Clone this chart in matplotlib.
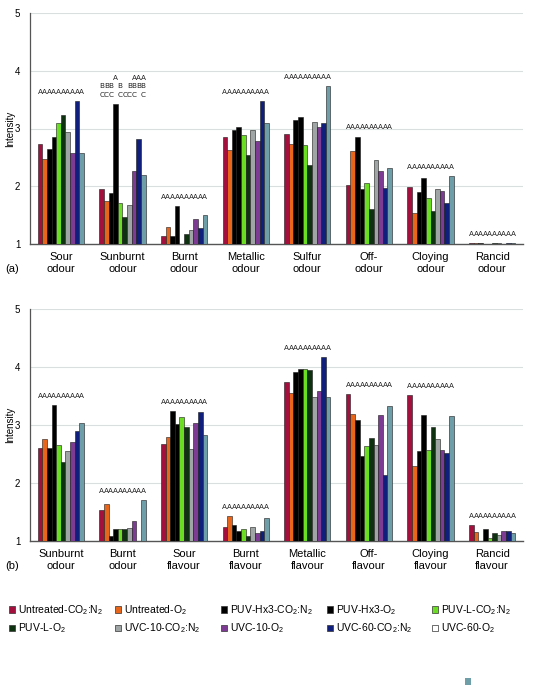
import numpy as np
import matplotlib
matplotlib.use("Agg")
import matplotlib.pyplot as plt
from matplotlib.patches import Patch, Rectangle

plt.rcParams['font.family'] = ['Liberation Sans', 'DejaVu Sans']
plt.rcParams['mathtext.fontset'] = 'custom'
plt.rcParams['mathtext.rm'] = 'Liberation Sans'
plt.rcParams['mathtext.it'] = 'Liberation Sans:italic'

# series (treatments)
series = ['Untreated-CO$_2$:N$_2$', 'Untreated-O$_2$', 'PUV-Hx3-CO$_2$:N$_2$', 'PUV-Hx3-O$_2$',
          'PUV-L-CO$_2$:N$_2$', 'PUV-L-O$_2$', 'UVC-10-CO$_2$:N$_2$', 'UVC-10-O$_2$',
          'UVC-60-CO$_2$:N$_2$', 'UVC-60-O$_2$']
colors = ['#A3103D', '#E8661C', '#000000', '#000000', '#6BDD22',
          '#0E3210', '#9FA4A4', '#7D3B93', '#0F1F7B', '#6E9FA8']
legend_colors = colors[:9] + ['#FFFFFF']

# panel (a)
cats_a = ['Sour\nodour', 'Sunburnt\nodour', 'Burnt\nodour', 'Metallic\nodour',
          'Sulfur\nodour', 'Off-\nodour', 'Cloying\nodour', 'Rancid\nodour']
vals_a = [
    [2.73, 2.47, 2.64, 2.86, 3.09, 3.23, 2.94, 2.58, 3.48, 2.57],
    [1.95, 1.74, 1.89, 3.42, 1.71, 1.47, 1.67, 2.27, 2.82, 2.20],
    [1.14, 1.29, 1.14, 1.66, 1.00, 1.17, 1.24, 1.44, 1.28, 1.51],
    [2.86, 2.63, 2.98, 3.02, 2.88, 2.54, 2.98, 2.78, 3.47, 3.09],
    [2.90, 2.74, 3.14, 3.20, 2.71, 2.36, 3.11, 3.03, 3.09, 3.73],
    [2.02, 2.61, 2.86, 1.95, 2.06, 1.61, 2.46, 2.26, 1.97, 2.32],
    [1.99, 1.54, 1.90, 2.15, 1.80, 1.57, 1.95, 1.92, 1.71, 2.18],
    [1.015, 1.015, 1.015, 1.00, 1.00, 1.015, 1.015, 1.00, 1.015, 1.015],
]
sunburnt_letters = ['BC', 'BC', 'BC', 'A', 'BC', 'C', 'BC', 'ABC', 'AB', 'ABC']
letters_a = [['A'] * 10 for _ in cats_a]
letters_a[1] = sunburnt_letters

# panel (b)
cats_b = ['Sunburnt\nodour', 'Burnt\nodour', 'Sour\nflavour', 'Burnt\nflavour',
          'Metallic\nflavour', 'Off-\nflavour', 'Cloying\nflavour', 'Rancid\nflavour']
vals_b = [
    [2.61, 2.76, 2.61, 3.34, 2.66, 2.37, 2.55, 2.71, 2.90, 3.03],
    [1.53, 1.64, 1.08, 1.21, 1.21, 1.21, 1.23, 1.34, 1.00, 1.70],
    [2.67, 2.80, 3.24, 3.02, 3.14, 2.96, 2.58, 3.04, 3.23, 2.83],
    [1.24, 1.43, 1.28, 1.17, 1.21, 1.08, 1.24, 1.14, 1.18, 1.39],
    [3.74, 3.56, 3.91, 3.97, 3.97, 3.94, 3.49, 3.59, 4.17, 3.49],
    [3.53, 3.19, 3.09, 2.47, 2.64, 2.78, 2.66, 3.18, 2.14, 3.32],
    [3.52, 2.30, 2.56, 3.17, 2.57, 2.97, 2.76, 2.57, 2.51, 3.16],
    [1.27, 1.16, 1.00, 1.21, 1.06, 1.13, 1.11, 1.18, 1.17, 1.13],
]
letters_b = [['A'] * 10 for _ in cats_b]

W, H = 533, 685
fig = plt.figure(figsize=(W / 100, H / 100), dpi=100)

bw = 0.075


def panel(rect, cats, vals, letters, tag, tag_y):
    ax = fig.add_axes(rect)
    x = np.arange(len(cats))
    vals = np.array(vals)
    for i in range(len(series)):
        ax.bar(x + (i - 4.5) * bw, vals[:, i], width=bw, color=colors[i],
               edgecolor='#1a1a1a', linewidth=0.4, zorder=3)
    for g in range(len(cats)):
        top = vals[g].max()
        used = [ch for ch in 'ABC' if any(ch in s for s in letters[g])]
        for i in range(len(series)):
            for r, ch in enumerate(used):
                if ch in letters[g][i]:
                    row = len(used) - 1 - r
                    ax.text(x[g] + (i - 4.5) * bw, top + 0.16 + 0.15 * row, ch,
                            ha='center', va='center', fontsize=5.2,
                            family='DejaVu Sans', color='#222222', zorder=4)
    ax.set_xlim(-0.5, len(cats) - 0.5)
    ax.set_ylim(1, 5)
    ax.set_yticks([1, 2, 3, 4, 5])
    ax.yaxis.grid(True, color='#D9DEDE', linewidth=0.8, zorder=0)
    ax.set_xticks(x)
    ax.set_xticklabels(cats, fontsize=8, linespacing=1.15)
    ax.tick_params(axis='x', length=0, pad=6)
    ax.tick_params(axis='y', length=0, pad=7, labelsize=7)
    for s in ['top', 'right']:
        ax.spines[s].set_visible(False)
    ax.spines['left'].set_color('#555555')
    ax.spines['bottom'].set_color('#555555')
    ax.spines['left'].set_linewidth(0.9)
    ax.spines['bottom'].set_linewidth(1.0)
    ax.set_ylabel('Intensity', fontsize=7)
    ax.yaxis.set_label_coords(-15 / 493, 0.5)
    fig.text(12 / W, 1 - tag_y / H, tag, fontsize=8, ha='center', va='center')
    return ax


panel([30 / W, 1 - 244 / H, 493 / W, 231 / H], cats_a, vals_a, letters_a, '(a)', 269)
panel([30 / W, 1 - 541 / H, 493 / W, 232 / H], cats_b, vals_b, letters_b, '(b)', 566)

# legend: two rows of five, laid out in five columns
col_x = [9, 115, 221, 327, 432]
handles = [Patch(facecolor=legend_colors[i], edgecolor='#333333', linewidth=0.5, label=series[i])
           for i in range(len(series))]
for j in range(5):
    fig.legend(handles=[handles[j], handles[j + 5]], loc='upper left',
               bbox_to_anchor=(col_x[j] / W, 1 - 603 / H), frameon=False,
               fontsize=7.5, handlelength=0.6, handleheight=0.6,
               handletextpad=0.25, labelspacing=0.45, borderpad=0, borderaxespad=0)

fig.patches.append(Rectangle((465 / W, 1 - 685 / H), 6 / W, 7 / H, transform=fig.transFigure,
                             facecolor=colors[9], edgecolor='none'))

fig.savefig('out.png', dpi=100)
